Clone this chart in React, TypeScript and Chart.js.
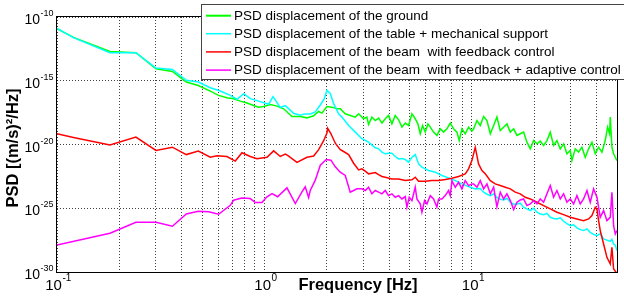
import { useEffect, useRef } from 'react';
import { Chart, registerables } from 'chart.js';

Chart.register(...registerables);

// ---- data: [frequency in Hz, log10 of PSD] ----
const groundPoints: [number, number][] = [
  [0.1, -10.92], [0.12, -11.6], [0.18, -12.7], [0.24, -12.8], [0.3, -14.06], [0.36, -14.27], [0.42, -15.1], [0.48, -15.37],
  [0.548, -15.81], [0.601, -16.15], [0.659, -16.34], [0.71, -16.41], [0.765, -16.6], [0.824, -16.75], [0.886, -16.94], [0.937, -17.07],
  [0.991, -17.02], [1.067, -16.86], [1.149, -16.99], [1.237, -17.2], [1.357, -17.8], [1.488, -17.8], [1.602, -17.91], [1.725, -17.75],
  [1.824, -17.41], [1.892, -17.54], [2.0, -17.02], [2.114, -17.07], [2.235, -17.2],
  [2.318, -17.2], [2.45, -17.59], [2.59, -17.72], [2.739, -17.85], [2.842, -17.59], [3.002, -17.98], [3.116, -17.85], [3.173, -18.43],
  [3.294, -17.85], [3.419, -18.12], [3.548, -17.93], [3.682, -18.32], [3.82, -17.98], [3.963, -17.72], [4.112, -18.38], [4.268, -17.72],
  [4.43, -18.06], [4.597, -18.64], [4.77, -18.32], [4.95, -18.51], [5.136, -17.59], [5.327, -17.98], [5.487, -18.38], [5.632, -19.16],
  [5.781, -18.51], [5.954, -19.03], [6.134, -18.38], [6.294, -18.64], [6.531, -19.03], [6.776, -19.29], [7.031, -18.77], [7.296, -19.03],
  [7.57, -18.77], [7.858, -18.32], [8.154, -18.77], [8.461, -19.03], [8.682, -19.69], [8.943, -18.77], [9.279, -19.16], [9.63, -18.64],
  [9.991, -18.95],
  [10.19, -18.77], [10.57, -18.12], [10.96, -18.51], [11.38, -17.8], [11.81, -18.12], [12.26, -19.16], [12.72, -18.51], [13.19, -17.85],
  [13.69, -18.9], [14.2, -18.64], [14.74, -18.38], [15.3, -19.03], [15.88, -18.77], [16.48, -19.29], [17.09, -19.16], [17.73, -19.03],
  [18.4, -19.82], [19.1, -20.34], [19.82, -19.69], [20.57, -19.95], [21.34, -19.74], [22.15, -20.08], [22.98, -19.69], [23.84, -19.03],
  [24.74, -20.08], [25.67, -19.69], [26.64, -20.34], [27.64, -19.95], [28.69, -20.73], [29.76, -20.47], [30.32, -21.26], [31.46, -20.34],
  [32.65, -20.6], [33.87, -20.21], [35.16, -21.0], [36.49, -20.34], [37.86, -19.82], [39.28, -20.73], [40.76, -20.21], [42.29, -20.6],
  [43.88, -19.69], [45.04, -18.64], [46.05, -19.16], [46.4, -17.85], [47.26, -20.21], [48.15, -20.73], [49.05, -21.0], [49.96, -21.26],
];

const tablePoints: [number, number][] = [
  [0.1, -10.9], [0.12, -11.62], [0.18, -12.8], [0.24, -12.8], [0.3, -14.0], [0.36, -14.11], [0.42, -14.97], [0.48, -15.1],
  [0.548, -15.55], [0.613, -15.8], [0.684, -16.15], [0.737, -16.45], [0.794, -16.02], [0.854, -16.4], [0.937, -16.6], [1.047, -16.85],
  [1.099, -16.25], [1.192, -17.1], [1.26, -16.95], [1.382, -17.55], [1.488, -17.7], [1.555, -17.6], [1.662, -17.6], [1.757, -17.45],
  [1.858, -16.9], [1.942, -16.4], [2.0, -15.75], [2.075, -16.0], [2.154, -16.8], [2.277, -17.6],
  [2.362, -17.85], [2.544, -18.51], [2.739, -19.03], [2.947, -19.55], [3.173, -19.82], [3.419, -20.26], [3.548, -20.34], [3.682, -20.6],
  [3.82, -20.73], [3.963, -20.68], [4.112, -20.68], [4.268, -20.94], [4.43, -21.13], [4.597, -21.1], [4.77, -21.18], [4.95, -21.39],
  [5.136, -21.0], [5.327, -20.79], [5.529, -21.52], [5.737, -21.78], [6.178, -22.04], [6.652, -22.17], [7.162, -22.43], [7.713, -22.62],
  [8.305, -22.83], [8.943, -23.09], [9.63, -23.3],
  [10.37, -23.48], [10.96, -23.45], [11.38, -23.74], [11.81, -23.9], [12.26, -24.01], [12.72, -23.88], [13.19, -24.14], [13.69, -24.3],
  [14.2, -24.35], [14.74, -24.22], [15.3, -24.53], [15.88, -24.68], [16.48, -24.66], [17.09, -24.6], [17.73, -24.92], [18.4, -25.05],
  [19.1, -25.18], [19.82, -25.0], [20.57, -25.31], [21.34, -25.45], [22.15, -25.5], [22.98, -25.4], [23.84, -25.71], [24.74, -25.8],
  [25.67, -25.84], [26.64, -25.75], [27.64, -26.02], [28.69, -26.2], [29.76, -26.36], [30.89, -26.3], [32.05, -26.54], [33.26, -26.68],
  [34.51, -26.75], [35.82, -26.62], [37.16, -26.89], [38.56, -27.05], [40.02, -27.15], [41.52, -27.0], [43.09, -27.41], [44.71, -27.5],
  [46.4, -27.59], [47.26, -27.45], [48.15, -27.8], [49.05, -27.9], [49.96, -28.32],
];

const feedbackPoints: [number, number][] = [
  [0.1, -19.16], [0.12, -19.45], [0.18, -20.03], [0.24, -19.42], [0.3, -20.47], [0.36, -20.21], [0.42, -20.79], [0.48, -20.52],
  [0.548, -21.0], [0.59, -20.88], [0.659, -20.94], [0.723, -21.3], [0.779, -20.65], [0.854, -20.94], [0.92, -21.12], [1.028, -21.0],
  [1.107, -20.5], [1.192, -20.94], [1.26, -20.75], [1.293, -20.85], [1.434, -21.4], [1.602, -21.0], [1.725, -20.9], [1.824, -20.4],
  [1.928, -19.7], [2.0, -19.1], [2.015, -18.72], [2.091, -19.16], [2.194, -19.9], [2.319, -20.4],
  [2.362, -20.47], [2.544, -20.79], [2.689, -21.47], [2.739, -21.65], [2.842, -21.99], [2.947, -21.91], [3.059, -22.09], [3.173, -22.3],
  [3.294, -22.25], [3.419, -22.2], [3.548, -22.36], [3.682, -22.51], [3.82, -22.57], [4.112, -22.7], [4.43, -22.7], [4.77, -22.83],
  [5.136, -22.77], [5.327, -22.57], [5.529, -22.88], [5.954, -22.88], [6.412, -22.83], [6.904, -22.83], [7.432, -22.75], [8.005, -22.64],
  [8.618, -22.51], [9.279, -22.3], [9.63, -21.91], [9.991, -21.26],
  [10.37, -20.22], [10.76, -21.52], [11.17, -22.04], [11.59, -22.3], [12.26, -22.83], [12.95, -23.09], [13.69, -23.22], [14.47, -23.35],
  [15.3, -23.48], [16.17, -23.74], [17.09, -23.87], [18.07, -24.14], [19.1, -24.27], [20.57, -24.53], [22.15, -24.79], [23.84, -25.05],
  [25.67, -25.31], [27.64, -25.5], [29.76, -25.71], [32.05, -25.84], [34.51, -25.97], [36.49, -25.84], [37.86, -25.58], [39.28, -24.92],
  [40.02, -25.05], [40.76, -25.97], [41.52, -26.75], [43.09, -27.8], [44.71, -28.85], [46.4, -29.37], [47.26, -28.06], [48.15, -29.76],
  [49.96, -30.1],
];

const adaptivePoints: [number, number][] = [
  [0.1, -27.88], [0.18, -26.96], [0.24, -26.1], [0.3, -26.1], [0.36, -26.41], [0.42, -25.45], [0.48, -25.24],
  [0.538, -25.28], [0.601, -25.47], [0.684, -24.77], [0.71, -24.37], [0.777, -24.2], [0.854, -24.24], [0.903, -24.55], [0.972, -24.55],
  [1.028, -24.1], [1.087, -23.85], [1.157, -24.1], [1.283, -23.4], [1.408, -24.63], [1.516, -23.72], [1.572, -23.32], [1.632, -24.16],
  [1.662, -23.6], [1.757, -22.8], [1.858, -21.62], [1.985, -21.18], [2.091, -21.23], [2.194, -21.75],
  [2.318, -22.17], [2.45, -22.43], [2.59, -23.74], [2.689, -23.61], [2.79, -23.48], [2.947, -23.48], [3.059, -23.61], [3.173, -23.35],
  [3.294, -23.87], [3.419, -23.61], [3.548, -23.74], [3.682, -23.87], [3.82, -23.61], [3.963, -24.01], [4.112, -23.87], [4.268, -24.14],
  [4.43, -24.01], [4.597, -24.27], [4.77, -24.08], [4.858, -24.92], [4.985, -24.14], [5.136, -24.4], [5.327, -23.35], [5.428, -24.27],
  [5.632, -24.66], [5.737, -25.31], [5.91, -24.4], [6.066, -24.66], [6.294, -24.01], [6.531, -24.27], [6.776, -24.92], [6.904, -24.27],
  [7.162, -24.27], [7.432, -24.01], [7.713, -23.61], [7.858, -24.01], [8.005, -22.83], [8.305, -23.35], [8.618, -22.96], [8.943, -23.48],
  [9.279, -22.83], [9.63, -23.22], [9.991, -23.09],
  [10.19, -23.09], [10.57, -23.35], [10.96, -22.83], [11.38, -23.48], [11.81, -23.09], [12.26, -23.87], [12.72, -23.35], [13.19, -24.9],
  [13.69, -23.74], [14.2, -24.27], [14.74, -23.87], [15.3, -24.4], [15.88, -25.1], [16.48, -24.53], [17.09, -24.35], [17.73, -24.27],
  [18.4, -24.79], [19.1, -24.66], [19.82, -24.4], [20.57, -24.66], [21.34, -24.27], [22.15, -24.53], [22.98, -23.87], [23.84, -23.22],
  [24.74, -24.14], [25.67, -23.61], [26.64, -24.27], [27.64, -23.87], [28.69, -24.53], [29.76, -24.27], [30.89, -24.66], [32.05, -24.01],
  [33.26, -24.66], [34.51, -24.27], [35.82, -23.61], [37.16, -24.53], [38.56, -23.48], [40.02, -24.14], [41.52, -25.71], [43.09, -25.18],
  [44.71, -25.97], [46.4, -25.71], [47.26, -23.74], [48.15, -26.36], [49.05, -27.02], [49.96, -26.75],
];

const seriesLabels = [
  'PSD displacement of the ground',
  'PSD displacement of the table + mechanical support',
  'PSD displacement of the beam  with feedback control',
  'PSD displacement of the beam  with feedback + adaptive control',
];
const seriesColors = ['#00ff00', '#00ffff', '#ff0000', '#ff00ff'];

const xGridValues = [0.1, 0.2, 0.3, 0.4, 0.5, 0.6, 0.7, 0.8, 0.9, 1, 2, 3, 4, 5, 6, 7, 8, 9, 10, 20, 30, 40, 50];
const yGridValues = [1e-30, 1e-25, 1e-20, 1e-15, 1e-10];
const xLabelExponents = [-1, 0, 1];
const yLabelExponents = [-10, -15, -20, -25, -30];

const xTitle = 'Frequency [Hz]';
const yTitle = 'PSD [(m/s)\u00B2/Hz]';

const FONT = '"Liberation Sans", Arial, Helvetica, sans-serif';

const decorPlugin = {
  id: 'decor',
  afterDraw(chart: any) {
    const ctx: CanvasRenderingContext2D = chart.ctx;
    const { left, right, top, bottom } = chart.chartArea;
    const xs = chart.scales.x;
    const ys = chart.scales.y;
    ctx.save();

    // plot box
    ctx.strokeStyle = '#000';
    ctx.lineWidth = 1;
    ctx.strokeRect(Math.round(left) - 0.5, Math.round(top) - 0.5, Math.round(right - left) + 1, Math.round(bottom - top) + 1);

    ctx.fillStyle = '#000';
    ctx.textBaseline = 'alphabetic';

    // y tick labels 10^e
    for (const e of yLabelExponents) {
      const y = ys.getPixelForValue(Math.pow(10, e));
      const sup = String(e);
      ctx.font = `9px ${FONT}`;
      ctx.textAlign = 'right';
      const sw = ctx.measureText(sup).width;
      ctx.fillText(sup, 53.5, y - 1);
      ctx.font = `14px ${FONT}`;
      ctx.fillText('10', 53.5 - sw - 0.5, y + 7);
    }

    // x tick labels 10^e
    for (const e of xLabelExponents) {
      const x = xs.getPixelForValue(Math.pow(10, e));
      const sup = String(e);
      ctx.font = `15px ${FONT}`;
      const w10 = ctx.measureText('10').width;
      ctx.font = `10px ${FONT}`;
      const ws = ctx.measureText(sup).width;
      const start = x - (w10 + ws) / 2 + 1;
      ctx.textAlign = 'left';
      ctx.font = `15px ${FONT}`;
      ctx.fillText('10', start, 290);
      ctx.font = `10px ${FONT}`;
      ctx.fillText(sup, start + w10 + 0.5, 281);
    }

    // axis titles
    ctx.font = `bold 16.5px ${FONT}`;
    ctx.textAlign = 'center';
    ctx.fillText(xTitle, 358, 290);
    ctx.save();
    ctx.translate(13, 148);
    ctx.rotate(-Math.PI / 2);
    ctx.textBaseline = 'middle';
    ctx.fillText(yTitle, 0, 0);
    ctx.restore();

    // legend
    const lx = 201.5, ly = 4.5, lw = 430, lh = 75;
    ctx.fillStyle = '#fff';
    ctx.fillRect(lx, ly, lw, lh);
    ctx.strokeStyle = '#444';
    ctx.lineWidth = 1;
    ctx.strokeRect(lx, ly, lw, lh);
    const rows = [15.7, 33.7, 51.9, 70.1];
    ctx.font = `13.5px ${FONT}`;
    ctx.textAlign = 'left';
    ctx.textBaseline = 'middle';
    seriesLabels.forEach((label, i) => {
      const ry = rows[i];
      ctx.strokeStyle = seriesColors[i];
      ctx.lineWidth = i === 0 ? 2 : 1.5;
      ctx.beginPath();
      ctx.moveTo(206, ry);
      ctx.lineTo(231, ry);
      ctx.stroke();
      ctx.fillStyle = '#000';
      ctx.fillText(label, 234, ry + 0.5);
    });

    ctx.restore();
  },
};

export default function App() {
  const canvasRef = useRef<HTMLCanvasElement | null>(null);

  useEffect(() => {
    const canvas = canvasRef.current;
    if (!canvas) return;
    const allPoints = [groundPoints, tablePoints, feedbackPoints, adaptivePoints];
    const chart = new Chart(canvas, {
      type: 'line',
      data: {
        datasets: allPoints.map((pts, i) => ({
          label: seriesLabels[i],
          data: pts.map(([f, lp]) => ({ x: f, y: Math.pow(10, lp) })),
          borderColor: seriesColors[i],
          backgroundColor: seriesColors[i],
          borderWidth: 1.5,
          pointRadius: 0,
          tension: 0,
          fill: false,
          order: 3 - i,
        })),
      },
      options: {
        responsive: false,
        animation: false,
        devicePixelRatio: 1,
        layout: { padding: { left: 0, top: 17, right: 7, bottom: 0 } },
        plugins: { legend: { display: false }, tooltip: { enabled: false } },
        events: [],
        scales: {
          x: {
            type: 'logarithmic',
            min: 0.1,
            max: 50,
            afterBuildTicks: (s: any) => {
              s.ticks = xGridValues.map((v) => ({ value: v }));
            },
            afterFit: (s: any) => {
              s.height = 25;
            },
            ticks: { display: false },
            grid: { color: 'rgba(0,0,0,0.75)', lineWidth: 1, drawTicks: false },
            border: { display: false, dash: [1, 2] },
          },
          y: {
            type: 'logarithmic',
            min: 1e-30,
            max: 1e-10,
            afterBuildTicks: (s: any) => {
              s.ticks = yGridValues.map((v) => ({ value: v }));
            },
            afterFit: (s: any) => {
              s.width = 57;
            },
            ticks: { display: false },
            grid: { color: 'rgba(0,0,0,0.75)', lineWidth: 1, drawTicks: false },
            border: { display: false, dash: [1, 2] },
          },
        },
      } as any,
      plugins: [decorPlugin],
    });
    return () => chart.destroy();
  }, []);

  return (
    <div style={{ position: 'fixed', left: 0, top: 0, width: 624, height: 297, background: '#fff' }}>
      <canvas ref={canvasRef} width={624} height={297} style={{ display: 'block', width: 624, height: 297 }} />
    </div>
  );
}
